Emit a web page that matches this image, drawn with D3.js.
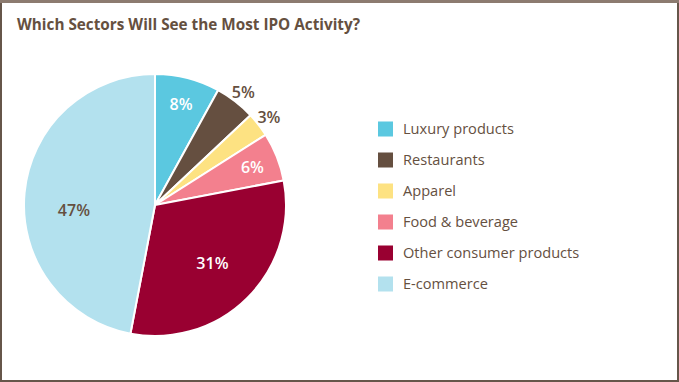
<!DOCTYPE html>
<html>
<head>
<meta charset="utf-8">
<script src="https://cdn.jsdelivr.net/npm/d3@7"></script>
<style>
  html, body { margin: 0; padding: 0; background: #fff; }
  svg { display: block; font-family: "Open Sans", "Noto Sans", sans-serif; }
</style>
</head>
<body>
<script>
const w = 679;
const h = 382;

const title = "Which Sectors Will See the Most IPO Activity?";
const sectors = ["Luxury products", "Restaurants", "Apparel", "Food & beverage", "Other consumer products", "E-commerce"];
const shares = [8, 5, 3, 6, 31, 47];
const colors = ["#5bc8e0", "#654f40", "#fde282", "#f3808e", "#990031", "#b3e1ee"];
const labelColors = ["#fff", "#654f40", "#654f40", "#fff", "#fff", "#654f40"];

const textColor = "#65503f";
const cx = 155, cy = 205, r = 131;

const svg = d3.select("body").append("svg").attr("width", w).attr("height", h);

// frame
svg.append("rect").attr("x", 1).attr("y", 1).attr("width", w - 2).attr("height", h - 2)
  .attr("fill", "#fff").attr("stroke", "#66564a").attr("stroke-width", 2);
svg.append("rect").attr("x", 0).attr("y", 0).attr("width", w).attr("height", 3)
  .attr("fill", "#8c7b70");

svg.append("text")
  .attr("x", 17).attr("y", 30)
  .attr("fill", textColor)
  .attr("font-size", 15.3).attr("font-weight", 700)
  .text(title);

const data = sectors.map((s, i) => ({ name: s, value: shares[i], color: colors[i], lc: labelColors[i] }));

const pie = d3.pie().sort(null).value(d => d.value);
const arcs = pie(data);
const arc = d3.arc().innerRadius(0).outerRadius(r);

const g = svg.append("g").attr("transform", `translate(${cx},${cy})`);

g.selectAll("path")
  .data(arcs)
  .enter()
  .append("path")
  .attr("d", arc)
  .attr("fill", d => d.data.color)
  .attr("stroke", "#fff")
  .attr("stroke-width", 2)
  .attr("stroke-linejoin", "round");

// label radius: small slices go outside, big ones further in
const labelR = (d) => d.data.value < 6 ? r * 1.1 : (d.data.value >= 30 ? r * 0.62 : r * 0.8);
// the big left slice has its label nudged down a little
const labelA = (d) => (d.startAngle + d.endAngle) / 2 - (d.data.value > 40 ? 0.15 : 0);

g.selectAll("text.lbl")
  .data(arcs)
  .enter()
  .append("text")
  .attr("class", "lbl")
  .attr("transform", d => {
    const a = labelA(d);
    const rr = labelR(d);
    return `translate(${Math.sin(a) * rr},${-Math.cos(a) * rr})`;
  })
  .attr("text-anchor", "middle")
  .attr("dy", "0.4em")
  .attr("fill", d => d.data.lc)
  .attr("font-size", 16)
  .attr("font-weight", 600)
  .text(d => d.data.value + "%");

// legend
const y = d3.scalePoint().domain(sectors).range([129, 284]);

const legend = svg.append("g");
legend.selectAll("rect")
  .data(data)
  .enter()
  .append("rect")
  .attr("x", 378)
  .attr("y", d => y(d.name) - 7.5)
  .attr("width", 15).attr("height", 15)
  .attr("fill", d => d.color);

legend.selectAll("text")
  .data(data)
  .enter()
  .append("text")
  .attr("x", 403)
  .attr("y", d => y(d.name))
  .attr("dy", "0.36em")
  .attr("fill", textColor)
  .attr("font-size", 14.6)
  .text(d => d.name);
</script>
</body>
</html>
